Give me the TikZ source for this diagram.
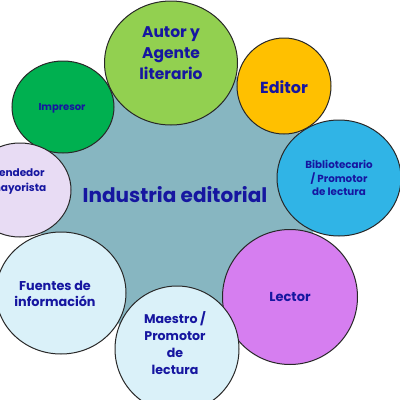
\documentclass[tikz,border=0pt]{standalone}
\usepackage{fontspec}
\setmainfont{Poppins}
\usetikzlibrary{shapes.geometric}
\definecolor{blobc}{RGB}{135,182,193}
\definecolor{autorc}{RGB}{146,208,80}
\definecolor{imprc}{RGB}{0,176,80}
\definecolor{editc}{RGB}{255,192,0}
\definecolor{biblc}{RGB}{48,180,230}
\definecolor{lectc}{RGB}{214,126,240}
\definecolor{lbluec}{RGB}{218,241,249}
\definecolor{lavc}{RGB}{232,220,244}
\definecolor{txtc}{RGB}{22,22,160}
\definecolor{edgec}{RGB}{40,40,40}
\tikzset{
  bubble/.style={ellipse, draw=edgec, line width=1pt, inner sep=0pt},
  txt/.style={text=txtc, font=\bfseries, align=center, inner sep=0pt},
}
\begin{document}
\begin{tikzpicture}[x=1pt,y=-1pt]
\useasboundingbox (0,0) rectangle (400,400);
\clip (0,0) rectangle (400,400);
\fill[white] (0,0) rectangle (400,400);
\node[ellipse, fill=blobc, minimum width=280pt, minimum height=272pt, inner sep=0pt] (blob) at (177,200) {};
\node[bubble, fill=autorc, minimum width=133pt, minimum height=124pt] (autor) at (171,63) {};
\node[bubble, fill=imprc, minimum width=102pt, minimum height=92pt] (impresor) at (63,107) {};
\node[bubble, fill=editc, minimum width=94pt, minimum height=96pt] (editor) at (284,86) {};
\node[bubble, fill=biblc, minimum width=124pt, minimum height=116pt] (biblio) at (339,178) {};
\node[bubble, fill=lectc, minimum width=135pt, minimum height=135pt] (lector) at (290,297) {};
\node[bubble, fill=lavc, minimum width=102pt, minimum height=94pt] (vendedor) at (20,190) {};
\node[bubble, fill=lbluec, minimum width=130pt, minimum height=122pt] (fuentes) at (61,293) {};
\node[bubble, fill=lbluec, minimum width=124pt, minimum height=126pt] (maestro) at (177,349) {};
%
\node[txt, font=\bfseries\fontsize{20}{24}\selectfont] (tcentral) at (175,195) {Industria editorial};
\node[txt, font=\bfseries\fontsize{15.5}{21}\selectfont] (tautor) at (171,53) {Autor y\\Agente\\literario};
\node[txt, font=\bfseries\fontsize{10}{12}\selectfont] (timpresor) at (62,108) {Impresor};
\node[txt, font=\bfseries\fontsize{16}{20}\selectfont] (teditor) at (284,87) {Editor};
\node[txt, font=\bfseries\fontsize{10.3}{13.5}\selectfont] (tbiblio) at (339,178) {Bibliotecario\\/ Promotor\\de lectura};
\node[txt, font=\bfseries\fontsize{10.5}{15}\selectfont] (tvendedor) at (18,182) {Vendedor\\mayorista};
\node[txt, font=\bfseries\fontsize{12.8}{16}\selectfont] (tfuentes) at (55,294) {Fuentes de\\información};
\node[txt, font=\bfseries\fontsize{12.6}{17}\selectfont] (tmaestro) at (175,343) {Maestro /\\Promotor\\de\\lectura};
\node[txt, font=\bfseries\fontsize{13}{16}\selectfont] (tlector) at (290,297) {Lector};
\end{tikzpicture}
\end{document}
